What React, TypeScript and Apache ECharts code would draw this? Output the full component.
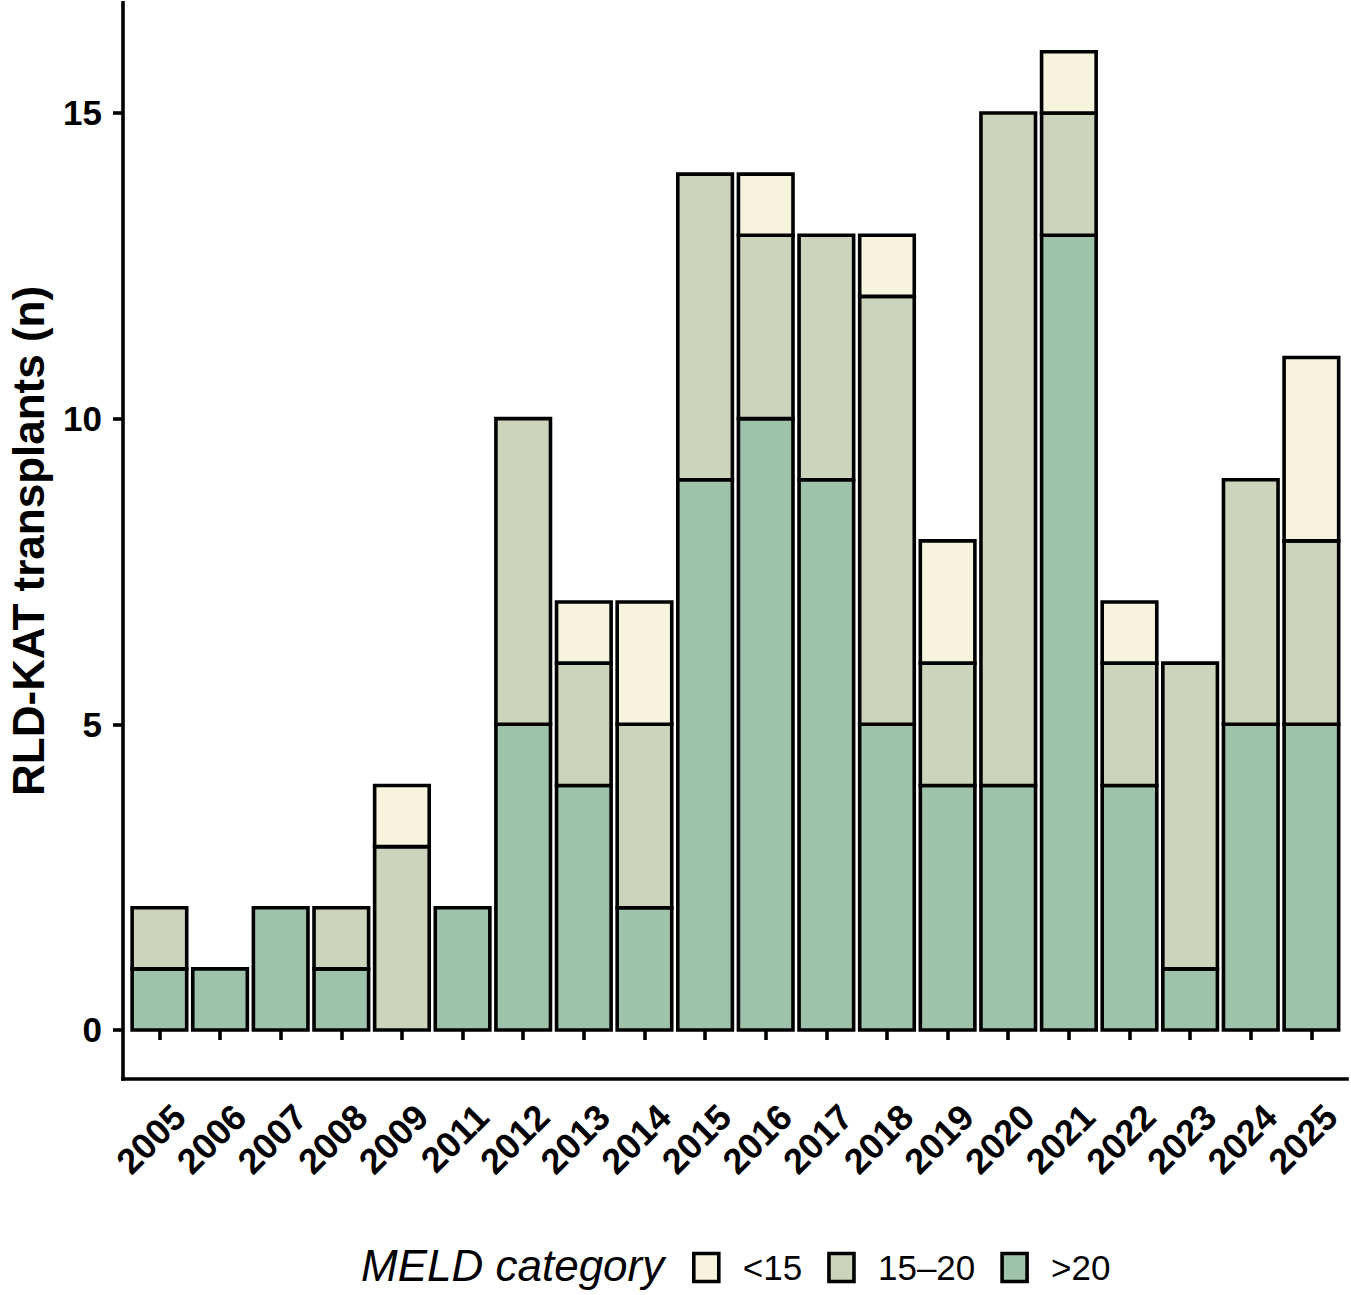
import React, { useEffect, useRef } from "react";
import * as echarts from "echarts";

const years = ["2005", "2006", "2007", "2008", "2009", "2011", "2012", "2013", "2014", "2015", "2016", "2017", "2018", "2019", "2020", "2021", "2022", "2023", "2024", "2025"];
const meldGt20 = [1, 1, 2, 1, 0, 2, 5, 4, 2, 9, 10, 9, 5, 4, 4, 13, 4, 1, 5, 5];
const meld15to20 = [1, 0, 0, 1, 3, 0, 5, 2, 3, 5, 3, 4, 7, 2, 11, 2, 2, 5, 4, 3];
const meldLt15 = [0, 0, 0, 0, 1, 0, 0, 1, 2, 0, 1, 0, 1, 2, 0, 1, 1, 0, 0, 3];
const yTicks = [0, 5, 10, 15];
const legendNames = ["<15", "15–20", ">20"];
const legendTitle = "MELD category";
const yTitle = "RLD-KAT transplants (n)";

const FONT = "'Liberation Sans', Arial, Helvetica, sans-serif";
const COL_LT15 = "#F7F4DE";
const COL_1520 = "#CCD5BB";
const COL_GT20 = "#9FC2AB";
const LINE_W = 3.6;

export default function App() {
  const ref = useRef<HTMLDivElement>(null);
  useEffect(() => {
    if (!ref.current) return;
    const chart = echarts.init(ref.current, undefined, { renderer: "svg" });
    const axisLineStyle = { color: "#000", width: LINE_W, cap: "square" };

    const defs = [
      { name: ">20", values: meldGt20, color: COL_GT20 },
      { name: "15–20", values: meld15to20, color: COL_1520 },
      { name: "<15", values: meldLt15, color: COL_LT15 },
    ];
    const base = years.map(() => 0);
    const series = defs.map((def) => {
      const data: number[][] = [];
      def.values.forEach((v, i) => {
        if (v > 0) data.push([i, base[i], base[i] + v]);
        base[i] += v;
      });
      return {
        type: "custom",
        name: def.name,
        xAxisIndex: 0,
        yAxisIndex: 0,
        encode: { x: 0, y: [1, 2] },
        itemStyle: { color: def.color, borderColor: "#000", borderWidth: LINE_W },
        data,
        renderItem: (_params: any, api: any) => {
          const idx = api.value(0);
          const lo = api.coord([idx, api.value(1)]);
          const hi = api.coord([idx, api.value(2)]);
          const bw = api.size([1, 0])[0] * 0.9;
          return {
            type: "rect",
            shape: { x: lo[0] - bw / 2, y: hi[1], width: bw, height: lo[1] - hi[1] },
            style: { fill: def.color, stroke: "#000", lineWidth: LINE_W },
          };
        },
      };
    });

    chart.setOption({
      animation: false,
      backgroundColor: "#ffffff",
      textStyle: { fontFamily: FONT },
      grid: [
        { left: 129.1, right: 9.3, top: 2.9, bottom: 216.1, containLabel: false, outerBoundsMode: "none" },
        { left: 123, right: 4, top: 2.9, bottom: 216.1, containLabel: false, outerBoundsMode: "none" },
      ],
      xAxis: [
        {
          type: "category",
          gridIndex: 0,
          data: years,
          boundaryGap: true,
          axisLine: { show: false },
          axisTick: {
            show: true,
            alignWithLabel: true,
            interval: 0,
            length: 10,
            lineStyle: { color: "#000", width: LINE_W },
          },
          axisLabel: {
            interval: 0,
            rotate: 45,
            align: "right",
            verticalAlign: "top",
            margin: 12,
            padding: [10, 0, 0, 0],
            fontSize: 36,
            fontWeight: "bold",
            color: "#000",
            fontFamily: FONT,
          },
          splitLine: { show: false },
        },
        {
          type: "value",
          gridIndex: 1,
          min: 0,
          max: 1,
          axisLine: { show: true, onZero: false, lineStyle: axisLineStyle },
          axisTick: { show: false },
          axisLabel: { show: false },
          splitLine: { show: false },
        },
      ],
      yAxis: [
        {
          type: "value",
          gridIndex: 0,
          min: -0.8,
          max: 16.8,
          show: false,
          splitLine: { show: false },
        },
        {
          type: "value",
          gridIndex: 1,
          min: -0.8,
          max: 16.8,
          name: yTitle,
          nameLocation: "middle",
          nameRotate: 90,
          nameGap: 73,
          nameTextStyle: { fontSize: 44, fontWeight: "bold", color: "#000", fontFamily: FONT },
          axisLine: { show: true, onZero: false, lineStyle: axisLineStyle },
          axisTick: {
            show: true,
            customValues: yTicks,
            length: 10,
            lineStyle: { color: "#000", width: LINE_W },
          },
          axisLabel: {
            customValues: yTicks,
            margin: 21,
            fontSize: 35,
            fontWeight: "bold",
            color: "#000",
            fontFamily: FONT,
          },
          splitLine: { show: false },
        },
      ],
      legend: {
        data: legendNames,
        orient: "horizontal",
        left: 692,
        top: 1250,
        padding: 0,
        itemWidth: 25,
        itemHeight: 28,
        itemGap: 25,
        icon: "rect",
        itemStyle: { borderColor: "#000", borderWidth: LINE_W },
        textStyle: { fontSize: 35, color: "#000", fontFamily: FONT, padding: [0, 0, 0, 19] },
        selectedMode: false,
      },
      graphic: [
        {
          type: "text",
          x: 361,
          y: 1265,
          style: {
            text: legendTitle,
            fontSize: 44,
            fontStyle: "italic",
            fontFamily: FONT,
            fill: "#000",
            verticalAlign: "middle",
            align: "left",
          },
        },
      ],
      series,
    });
    return () => chart.dispose();
  }, []);
  return (
    <div
      ref={ref}
      style={{ position: "absolute", left: 0, top: 0, width: 1351, height: 1295, background: "#fff" }}
    />
  );
}
